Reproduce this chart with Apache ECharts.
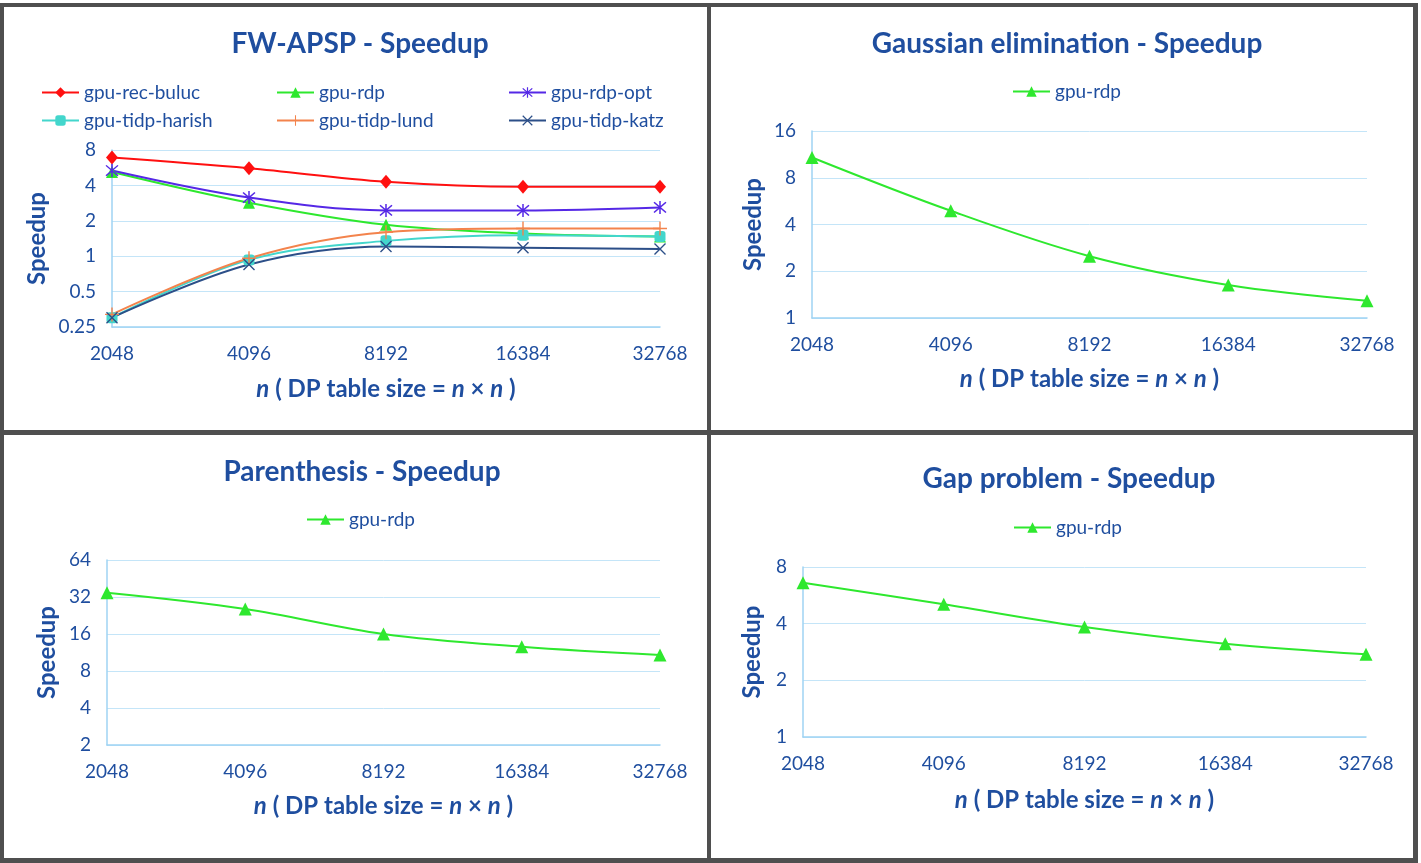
<!DOCTYPE html>
<html lang="en">
<head>
    <meta charset="UTF-8">
    <title>Speedup</title>
    <style>
        html, body { margin: 0; padding: 0; background: #fff; }
    </style>
</head>
<body>
<div id="main" style="width: 1421px;height: 863px;"></div>
<script src="https://cdn.jsdelivr.net/npm/echarts@6/dist/echarts.min.js"></script>
<script type="text/javascript">

    // x axis: n
    var sizes = ['2048', '4096', '8192', '16384', '32768'];

    // FW-APSP speedups
    var fwRecBuluc = [6.9, 5.6, 4.3, 3.9, 3.9];
    var fwRdp      = [5.2, 2.85, 1.85, 1.56, 1.47];
    var fwRdpOpt   = [5.35, 3.15, 2.45, 2.45, 2.6];
    var fwHarish   = [0.30, 0.93, 1.35, 1.51, 1.47];
    var fwLund     = [0.32, 0.96, 1.6, 1.72, 1.72];
    var fwKatz     = [0.30, 0.85, 1.21, 1.18, 1.15];

    // single series panels
    var gaussRdp = [10.8, 4.9, 2.5, 1.63, 1.29];
    var parenRdp = [34.7, 25.6, 16.0, 12.6, 10.8];
    var gapRdp   = [6.6, 5.07, 3.84, 3.13, 2.75];

    var blue = '#1f4e9f';
    var gridBlue = '#c4e5f8';
    var axisBlue = '#9fd3f3';
    var font = 'Lato';

    // marker shapes
    var starPath = 'path://M9,0H11V20H9Z M1.4,2.8L2.8,1.4L18.6,17.2L17.2,18.6Z M17.2,1.4L18.6,2.8L2.8,18.6L1.4,17.2Z';
    var plusPath = 'path://M9,0H11V20H9Z M0,9H20V11H0Z';
    var crossPath = 'path://M1.4,2.8L2.8,1.4L18.6,17.2L17.2,18.6Z M17.2,1.4L18.6,2.8L2.8,18.6L1.4,17.2Z';

    function xAxis(i, gap) {
        return {
            type: 'category', gridIndex: i, data: sizes, boundaryGap: false,
            axisLine: {lineStyle: {color: axisBlue, width: 1.5}},
            axisTick: {show: false},
            axisLabel: {color: blue, fontFamily: font, fontSize: 19, margin: 17},
            name: '{i|n} ( DP table size = {i|n} \u00d7 {i|n} )',
            nameLocation: 'middle', nameGap: gap,
            nameTextStyle: {
                color: blue, fontFamily: font, fontSize: 24, fontWeight: 'bold',
                rich: {i: {fontStyle: 'italic', fontWeight: 'bold', color: blue, fontFamily: font, fontSize: 24}}
            }
        };
    }

    function yAxis(i, min, max, gap) {
        return {
            type: 'log', logBase: 2, gridIndex: i, min: min, max: max,
            axisLine: {show: true, lineStyle: {color: axisBlue, width: 1.5}},
            axisTick: {show: false},
            splitLine: {lineStyle: {color: gridBlue, width: 1}},
            axisLabel: {color: blue, fontFamily: font, fontSize: 19, margin: 16},
            name: 'Speedup', nameLocation: 'middle', nameGap: gap,
            nameTextStyle: {color: blue, fontFamily: font, fontSize: 24, fontWeight: 'bold'}
        };
    }

    function line(name, data, i, color, symbol, size) {
        return {
            name: name, type: 'line', xAxisIndex: i, yAxisIndex: i,
            data: data, smooth: 0.35, symbol: symbol, symbolSize: size,
            lineStyle: {color: color, width: 2},
            itemStyle: {color: color},
            z: 3
        };
    }

    function legend(name, left, top) {
        return {
            data: [name], left: left, top: top, padding: 0,
            itemWidth: 37, itemHeight: 13,
            textStyle: {color: blue, fontFamily: font, fontSize: 19}
        };
    }

    function title(text, cx, top) {
        return {
            text: text, left: cx, top: top, textAlign: 'center',
            textStyle: {color: blue, fontFamily: font, fontSize: 28, fontWeight: 'bold'}
        };
    }

    function bar(x, y, w, h) {
        return {type: 'rect', shape: {x: x, y: y, width: w, height: h}, style: {fill: '#4f4f4f'}, silent: true};
    }

    var option = {
        backgroundColor: '#fff',
        animation: false,
        title: [
            title('FW-APSP - Speedup', 355, 25),
            title('Gaussian elimination - Speedup', 1062, 25),
            title('Parenthesis - Speedup', 357, 453),
            title('Gap problem - Speedup', 1064, 460)
        ],
        legend: [
            legend('gpu-rec-buluc', 41, 83),
            legend('gpu-rdp', 276, 83),
            legend('gpu-rdp-opt', 508, 83),
            legend('gpu-tidp-harish', 41, 111),
            legend('gpu-tidp-lund', 276, 111),
            legend('gpu-tidp-katz', 508, 111),
            legend('gpu-rdp', 1012, 82),
            legend('gpu-rdp', 306, 510),
            legend('gpu-rdp', 1013, 518)
        ],
        grid: [
            {left: 112, top: 150, width: 548, height: 177},
            {left: 812, top: 131, width: 555, height: 187},
            {left: 107, top: 560, width: 553, height: 185},
            {left: 803, top: 567, width: 563, height: 170}
        ],
        xAxis: [xAxis(0, 50), xAxis(1, 49), xAxis(2, 49), xAxis(3, 51)],
        yAxis: [yAxis(0, 0.25, 8, 63), yAxis(1, 1, 16, 47), yAxis(2, 2, 64, 48), yAxis(3, 1, 8, 39)],
        series: [
            line('gpu-rec-buluc', fwRecBuluc, 0, '#ff1010', 'diamond', [12, 14]),
            line('gpu-rdp', fwRdp, 0, '#2ee82e', 'triangle', 12),
            line('gpu-rdp-opt', fwRdpOpt, 0, '#5528e6', starPath, 13),
            line('gpu-tidp-harish', fwHarish, 0, '#43d6cc', 'roundRect', 11),
            line('gpu-tidp-lund', fwLund, 0, '#f3834c', plusPath, 14),
            line('gpu-tidp-katz', fwKatz, 0, '#2c4f88', crossPath, 12),
            line('gpu-rdp', gaussRdp, 1, '#2ee82e', 'triangle', 13),
            line('gpu-rdp', parenRdp, 2, '#2ee82e', 'triangle', 13),
            line('gpu-rdp', gapRdp, 3, '#2ee82e', 'triangle', 13)
        ],
        graphic: [
            bar(0, 3, 4, 860),
            bar(0, 3, 1418, 4),
            bar(1413, 3, 5, 860),
            bar(0, 858, 1418, 5),
            bar(707, 3, 4, 860),
            bar(0, 430, 1418, 5)
        ]
    };

    var myChart = echarts.init(document.getElementById('main'));
    myChart.setOption(option);
</script>
</body>
</html>
